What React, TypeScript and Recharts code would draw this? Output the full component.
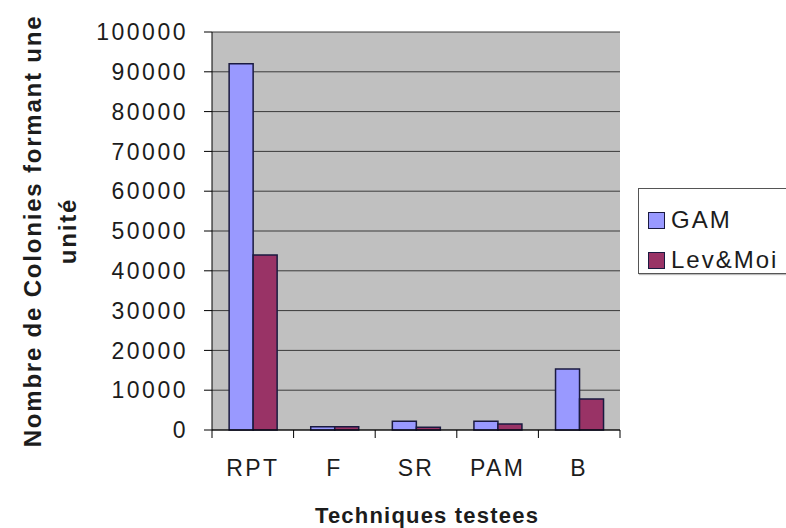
import {
  BarChart,
  Bar,
  XAxis,
  YAxis,
  CartesianGrid,
  Label,
} from "recharts";

const categories = ["RPT", "F", "SR", "PAM", "B"];
const gam = [92000, 800, 2200, 2200, 15300];
const levMoi = [44000, 800, 700, 1500, 7800];
const yTicks = [0, 10000, 20000, 30000, 40000, 50000, 60000, 70000, 80000, 90000, 100000];
const seriesNames = ["GAM", "Lev&Moi"];
const seriesColors = ["#9999FF", "#993366"];

const data = categories.map((c, i) => ({ name: c, gam: gam[i], lev: levMoi[i] }));

const W = 786;
const H = 528;
const M = { top: 32, right: 166, bottom: 0, left: 0 };
const Y_W = 212;
const X_H = 98;
const FONT = "'Liberation Sans', Arial, sans-serif";
const TXT = "#1c1c1c";
const BAR_STROKE = "#1a1a40";

function XTick(props: any) {
  const { x, y, payload, index } = props;
  const band = (W - M.right - Y_W) / categories.length;
  const left = x - band / 2;
  return (
    <g>
      <line x1={left} y1={y - 8} x2={left} y2={y} stroke="#000" />
      {index === categories.length - 1 && (
        <line x1={left + band} y1={y - 8} x2={left + band} y2={y} stroke="#000" />
      )}
      <text
        x={x}
        y={y + 38}
        textAnchor="middle"
        fontFamily={FONT}
        fontSize={23}
        letterSpacing={2.3}
        fill={TXT}
      >
        {payload.value}
      </text>
    </g>
  );
}

function YLabel() {
  const cy = M.top + (H - M.top - X_H) / 2;
  const common = {
    textAnchor: "middle" as const,
    fontFamily: FONT,
    fontWeight: "bold",
    fontSize: 24,
    letterSpacing: 1.8,
    fill: TXT,
  };
  return (
    <g transform={`translate(0, ${cy}) rotate(-90)`}>
      <text x={0} y={41} {...common}>
        Nombre de Colonies formant une
      </text>
      <text x={0} y={76} {...common}>
        unité
      </text>
    </g>
  );
}

function LegendBox() {
  return (
    <div
      style={{
        position: "absolute",
        left: 638,
        top: 188,
        border: "1px solid #555",
        width: 170,
        height: 86,
        boxSizing: "border-box",
        padding: "11px 0 0 9px",
        fontFamily: FONT,
        fontSize: 24,
        color: TXT,
        background: "#fff",
        boxShadow: "1px 1px 1px #bbb",
      }}
    >
      {seriesNames.map((n, i) => (
        <div key={n} style={{ display: "flex", alignItems: "center", height: 40 }}>
          <span
            style={{
              display: "inline-block",
              width: 15,
              height: 15,
              background: seriesColors[i],
              border: `1.5px solid ${BAR_STROKE}`,
              marginRight: 6,
            }}
          />
          <span style={{ letterSpacing: 2, lineHeight: "40px" }}>{n}</span>
        </div>
      ))}
    </div>
  );
}

export default function App() {
  return (
    <div style={{ position: "absolute", left: 0, top: 0, width: W, height: H, background: "#fff", overflow: "hidden" }}>
      <BarChart
        width={W}
        height={H}
        data={data}
        margin={M}
        barCategoryGap="21%"
        barGap={0}
      >
        <CartesianGrid vertical={false} stroke="#3a3a3a" fill="#C0C0C0" />
        <XAxis
          dataKey="name"
          height={X_H}
          stroke="#000"
          tickLine={false}
          tick={<XTick />}
          interval={0}
        >
          <Label
            value="Techniques testees"
            position="insideBottom"
            offset={5}
            dx={11}
            fontFamily={FONT}
            fontWeight="bold"
            fontSize={22}
            letterSpacing={1.2}
            fill={TXT}
          />
        </XAxis>
        <YAxis
          width={Y_W}
          domain={[0, 100000]}
          ticks={yTicks}
          interval={0}
          stroke="#000"
          tickSize={8}
          tickMargin={16}
          tick={{ fontFamily: FONT, fontSize: 23, letterSpacing: 2.5, fill: TXT }}
        >
          <Label content={<YLabel />} />
        </YAxis>
        <Bar dataKey="gam" name={seriesNames[0]} fill={seriesColors[0]} stroke={BAR_STROKE} strokeWidth={1.5} isAnimationActive={false} />
        <Bar dataKey="lev" name={seriesNames[1]} fill={seriesColors[1]} stroke={BAR_STROKE} strokeWidth={1.5} isAnimationActive={false} />
      </BarChart>
      <LegendBox />
    </div>
  );
}
